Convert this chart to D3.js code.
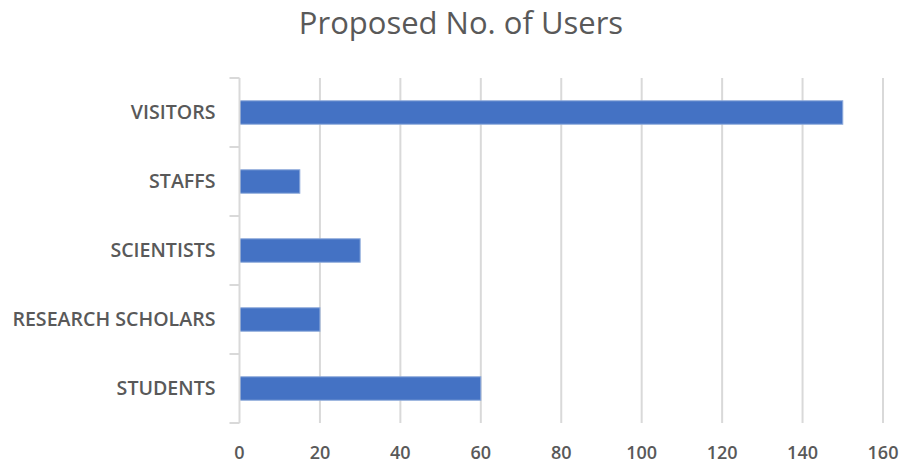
<!DOCTYPE html>
<html lang="en">
<head>
<meta charset="UTF-8">
<title>Proposed No. of Users</title>
<style>
    body { margin: 0; padding: 0; background: #ffffff; overflow: hidden; }
    svg text { font-family: 'Open Sans', sans-serif; fill: #595959; }
    .grid line { stroke: #d9d9d9; stroke-width: 2px; }
    .bar { fill: #4472c4; stroke: #8eaadb; stroke-width: 1px; }
</style>
</head>
<body>
<div id="chart"></div>
<script src="https://d3js.org/d3.v7.min.js"></script>
<script>
    const categories = ["VISITORS", "STAFFS", "SCIENTISTS", "RESEARCH SCHOLARS", "STUDENTS"];
    const users = [150, 15, 30, 20, 60];
    const xTicks = [0, 20, 40, 60, 80, 100, 120, 140, 160];
    const title = "Proposed No. of Users";

    const width = 904, height = 467;
    const margin = { top: 78, right: 21, bottom: 44, left: 239.5 };
    const innerW = width - margin.left - margin.right;
    const innerH = height - margin.top - margin.bottom;

    const svg = d3.select('#chart').append('svg')
        .attr('width', width)
        .attr('height', height);

    svg.append('text')
        .attr('x', 461)
        .attr('y', 34)
        .attr('text-anchor', 'middle')
        .style('font-size', '31px')
        .style('font-weight', 500)
        .text(title);

    const g = svg.append('g')
        .attr('transform', `translate(${margin.left},${margin.top})`);

    const x = d3.scaleLinear().domain([0, 160]).range([0, innerW]);
    const y = d3.scaleBand().domain(categories).range([0, innerH]).paddingInner(0.66).paddingOuter(0.33);
    const band = d3.scaleBand().domain(categories).range([0, innerH]);

    // vertical gridlines
    g.append('g').attr('class', 'grid')
        .selectAll('line')
        .data(xTicks.slice(1))
        .enter().append('line')
        .attr('x1', d => x(d)).attr('x2', d => x(d))
        .attr('y1', 0).attr('y2', innerH);

    // bars
    g.selectAll('.bar')
        .data(categories)
        .enter().append('rect')
        .attr('class', 'bar')
        .attr('x', 0)
        .attr('y', d => y(d))
        .attr('width', (d, i) => x(users[i]))
        .attr('height', y.bandwidth());

    // category axis line + ticks at band boundaries
    const bounds = categories.map(c => band(c)).concat([innerH]);
    g.append('line')
        .attr('x1', 0).attr('x2', 0).attr('y1', 0).attr('y2', innerH)
        .attr('stroke', '#d9d9d9').attr('stroke-width', 2);
    g.selectAll('.ytick')
        .data(bounds)
        .enter().append('line')
        .attr('x1', -10).attr('x2', 0)
        .attr('y1', d => d).attr('y2', d => d)
        .attr('stroke', '#d9d9d9').attr('stroke-width', 2);

    // category labels
    g.selectAll('.ylabel')
        .data(categories)
        .enter().append('text')
        .attr('x', -24)
        .attr('y', d => band(d) + band.bandwidth() / 2)
        .attr('dy', '0.35em')
        .attr('text-anchor', 'end')
        .style('font-size', '19.6px')
        .style('font-weight', 600)
        .text(d => d);

    // x tick labels
    g.selectAll('.xlabel')
        .data(xTicks)
        .enter().append('text')
        .attr('x', d => x(d))
        .attr('y', innerH + 30)
        .attr('dy', '0.35em')
        .attr('text-anchor', 'middle')
        .style('font-size', '18px')
        .style('font-weight', 600)
        .text(d => d);
</script>
</body>
</html>
